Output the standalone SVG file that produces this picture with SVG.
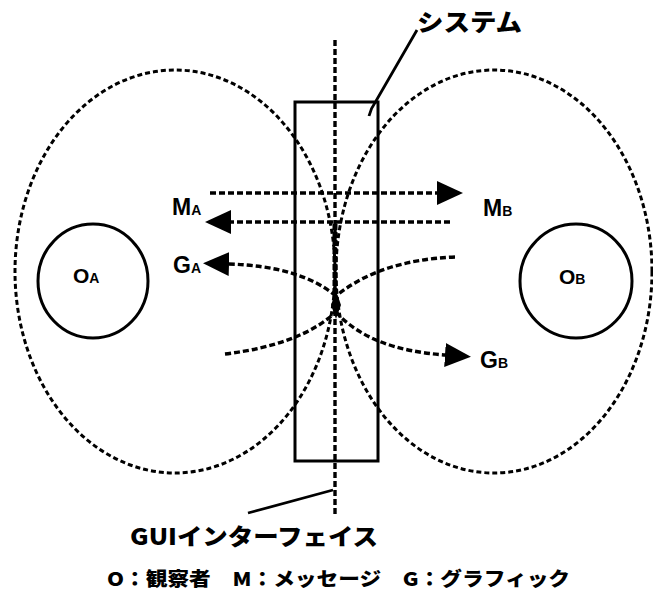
<svg xmlns="http://www.w3.org/2000/svg" width="653" height="594" viewBox="0 0 653 594">
<style>
.lobe{fill:none;stroke:#000;stroke-width:3;stroke-dasharray:5 3}
.flow{fill:none;stroke:#000;stroke-width:3.4;stroke-dasharray:6 3}
.solid{fill:none;stroke:#000;stroke-width:3}
.lead{fill:none;stroke:#000;stroke-width:2.8}
.lbl{font-family:"Liberation Sans",Arial,sans-serif;font-weight:bold;font-size:23px;fill:#000}
.obs{font-size:21px}
.sub{font-size:14px}
.jp{font-family:"Noto Sans CJK JP","Noto Sans",sans-serif;font-weight:900;fill:#000}
</style>
<defs>
<marker id="ah" markerUnits="userSpaceOnUse" markerWidth="26" markerHeight="24" refX="1" refY="12" orient="auto" viewBox="0 0 26 24">
<path d="M0,0 L26,12 L0,24 z" fill="#000"/>
</marker>
</defs>
<rect width="653" height="594" fill="#fff"/>
<g id="lobe-a"><ellipse class="lobe" cx="175" cy="271.5" rx="160" ry="201.5"/></g>
<g id="lobe-b"><ellipse class="lobe" cx="494" cy="271.5" rx="158" ry="201.5"/></g>
<g id="observer-a">
<ellipse class="solid" cx="93" cy="281" rx="55" ry="57"/>
<text class="lbl obs" x="73" y="283">O<tspan class="sub">A</tspan></text>
</g>
<g id="observer-b">
<ellipse class="solid" cx="576" cy="281" rx="56" ry="57"/>
<text class="lbl obs" x="559" y="284">O<tspan class="sub">B</tspan></text>
</g>
<g id="system">
<rect class="solid" x="295" y="102" width="83" height="359"/>
<path class="lead" d="M417,30 L376,101 Q371,108 369,116"/>
<text class="jp" x="417" y="31" font-size="24" textLength="105" lengthAdjust="spacingAndGlyphs">システム</text>
</g>
<g id="gui">
<line class="flow" x1="335" y1="40" x2="335" y2="515"/>
<path class="lead" d="M248,513 L333,490"/>
<text class="jp" x="130" y="545" font-size="23" textLength="248" lengthAdjust="spacingAndGlyphs">GUIインターフェイス</text>
</g>
<g id="connectors">
<line class="flow" x1="210" y1="193" x2="438" y2="193" marker-end="url(#ah)"/>
<line class="flow" x1="450" y1="222" x2="230" y2="222" marker-end="url(#ah)"/>
<path class="flow" d="M336,296 Q300,266 228,264" marker-end="url(#ah)"/>
<path class="flow" d="M455,257 Q380,260 336,296"/>
<path class="flow" d="M225,354 Q300,345 336,312"/>
<path class="flow" d="M336,312 Q370,350 446,355" marker-end="url(#ah)"/>
<line x1="335" y1="224" x2="335" y2="296" stroke="#000" stroke-width="5" stroke-dasharray="6 2"/>
<path d="M336,291 L341,305 L336,319 L331,305 z" fill="#000"/>
</g>
<g id="labels">
<text class="lbl" x="172" y="215">M<tspan class="sub">A</tspan></text>
<text class="lbl" x="483" y="216">M<tspan class="sub">B</tspan></text>
<text class="lbl" x="173" y="273">G<tspan class="sub">A</tspan></text>
<text class="lbl" x="480" y="368">G<tspan class="sub">B</tspan></text>
</g>
<g id="legend">
<text class="jp" x="107" y="586" font-size="19" textLength="463" lengthAdjust="spacingAndGlyphs">O：観察者　M：メッセージ　G：グラフィック</text>
</g>
</svg>
